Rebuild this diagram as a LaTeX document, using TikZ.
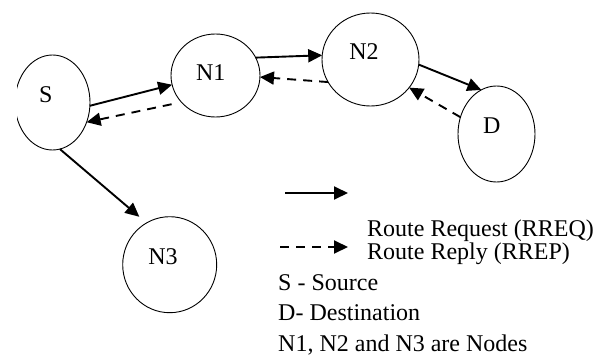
\documentclass[tikz,border=0pt]{standalone}
\usepackage{fontspec}
\setmainfont{Liberation Serif}
\usetikzlibrary{shapes.geometric,arrows.meta}
\begin{document}
\begin{tikzpicture}[x=1pt,y=-1pt,
  nodeshape/.style={ellipse,draw,line width=0.9pt,inner sep=0pt,outer sep=0pt},
  lbl/.style={inner sep=0pt,font=\fontsize{24}{28}\selectfont},
  req/.style={line width=1.9pt,-{Triangle[length=14pt,width=13pt]}},
  rep/.style={req,dash pattern=on 9pt off 7pt}]
\useasboundingbox (0,0) rectangle (603,356);
\begin{scope}
  \clip (17,0) rectangle (603,356);
  \node[nodeshape,minimum width=75pt,minimum height=95pt] (S) at (52.5,102.5) {};
\end{scope}
\node[nodeshape,minimum width=89pt,minimum height=83pt] (N1) at (215.5,75.5) {};
\node[nodeshape,minimum width=97pt,minimum height=93pt] (N2) at (370.5,59.5) {};
\node[nodeshape,minimum width=77pt,minimum height=96pt] (D) at (496.5,134) {};
\node[nodeshape,minimum width=94pt,minimum height=96pt] (N3) at (169.7,264.7) {};
\node[lbl] (Slab) at (45.7,95) {S};
\node[lbl] (N1lab) at (210.7,72.7) {N1};
\node[lbl] (N2lab) at (364,51.7) {N2};
\node[lbl] (Dlab) at (491.7,126) {D};
\node[lbl] (N3lab) at (163,257) {N3};
% route request
\draw[req] (S.-5) -- (N1.192);
\draw[req, shorten >=9.5pt] (S.-81) -- (N3.119.5);
\draw[req] (N1.24) -- (N2.175);
\draw[req] (N2.-6.6) -- (D.109.3);
% route reply
\draw[rep, shorten <=10pt] (N1.218.6) -- (S.-30);
\draw[rep] (N2.208.2) -- (N1.-2);
\draw[rep] (D.155) -- (N2.-36.3);
% legend
\coordinate (lq1) at (285,193);
\coordinate (lq2) at (348,193);
\coordinate (lp1) at (280,247);
\coordinate (lp2) at (348,247);
\draw[req] (lq1) -- (lq2);
\draw[rep] (lp1) -- (lp2);
\node[lbl,anchor=base west] (t1) at (367,236) {Route Request (RREQ)};
\node[lbl,anchor=base west] (t2) at (367,259) {Route Reply (RREP)};
\node[lbl,anchor=base west] (t3) at (278,290) {S - Source};
\node[lbl,anchor=base west] (t4) at (278,320) {D- Destination};
\node[lbl,anchor=base west] (t5) at (278,351) {N1, N2 and N3 are Nodes};
\end{tikzpicture}
\end{document}
